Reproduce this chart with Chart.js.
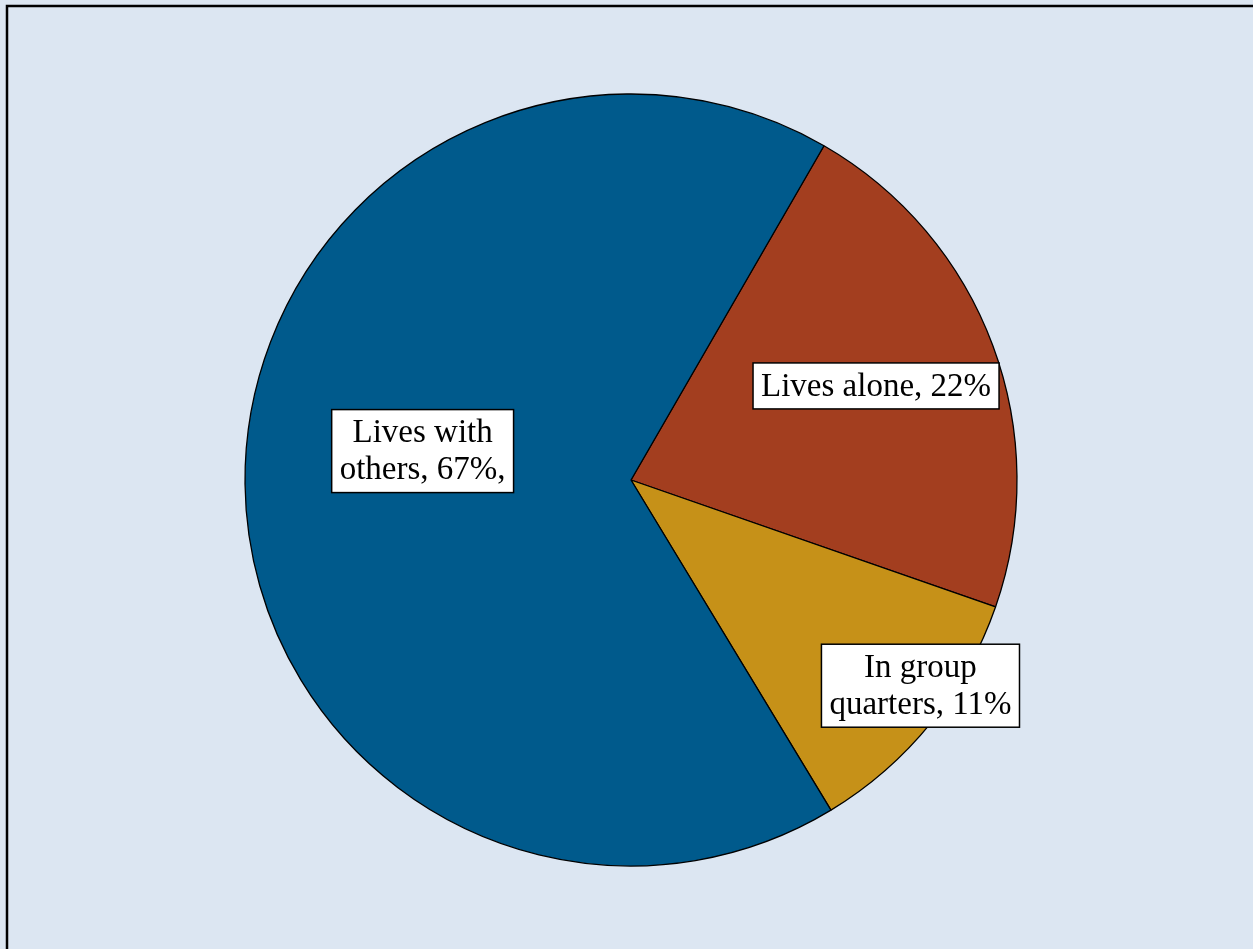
<!DOCTYPE html>
<html><head><meta charset="utf-8">
<script src="https://cdn.jsdelivr.net/npm/chart.js@4/dist/chart.umd.min.js"></script>
<style>html,body{margin:0;padding:0;background:#DCE6F2;overflow:hidden}#wrap{width:1253px;height:949px;position:relative}</style>
</head><body><div id="wrap"><canvas id="c" width="1253" height="949"></canvas></div>
<script>
const categories = ["Lives alone", "In group quarters", "Lives with others"];
const values = [22, 11, 67];
const labelLines = [["Lives alone, 22%"], ["In group", "quarters, 11%"], ["Lives with", "others, 67%,"]];
const colors = ["#A33E1F", "#C69118", "#005A8C"];

// label placement: radial fraction and angle tweak (degrees)
const labelPlace = [{r:0.68, da:-0.6}, {r:0.92, da:-3.6}, {r:0.545, da:8.5}];

const bgPlugin = {
  id:'bg',
  beforeDraw(chart){
    const ctx = chart.ctx;
    ctx.save();
    ctx.fillStyle = '#DCE6F2';
    ctx.fillRect(0,0,chart.width,chart.height);
    ctx.strokeStyle = '#000';
    ctx.lineWidth = 2.5;
    ctx.beginPath();
    ctx.moveTo(7, chart.height+2); ctx.lineTo(7, 6); ctx.lineTo(chart.width+2, 6);
    ctx.stroke();
    ctx.restore();
  }
};
const labelPlugin = {
  id:'lbl',
  afterDatasetsDraw(chart){
    const ctx = chart.ctx;
    const meta = chart.getDatasetMeta(0);
    ctx.save();
    ctx.font = '33px "Liberation Serif", "DejaVu Serif", serif';
    ctx.textAlign = 'center';
    ctx.textBaseline = 'middle';
    const lh = 37;
    meta.data.forEach((arc, i) => {
      const p = labelPlace[i];
      const mid = (arc.startAngle + arc.endAngle)/2 + p.da*Math.PI/180;
      const rr = arc.outerRadius * p.r;
      const cx = arc.x + Math.cos(mid)*rr;
      const cy = arc.y + Math.sin(mid)*rr;
      const lines = labelLines[i];
      let w = 0; lines.forEach(l => { w = Math.max(w, ctx.measureText(l).width); });
      const bw = w + 16, bh = lines.length*lh + 9;
      ctx.fillStyle = '#fff';
      ctx.fillRect(cx-bw/2, cy-bh/2, bw, bh);
      ctx.strokeStyle = '#000'; ctx.lineWidth = 1.5;
      ctx.strokeRect(cx-bw/2, cy-bh/2, bw, bh);
      ctx.fillStyle = '#000';
      lines.forEach((l, k) => {
        ctx.fillText(l, cx, cy - (lines.length-1)*lh/2 + k*lh + 1);
      });
    });
    ctx.restore();
  }
};

new Chart(document.getElementById('c'), {
  type: 'pie',
  data: { labels: categories, datasets: [{ data: values, backgroundColor: colors, borderColor: '#000', borderWidth: 1.3 }] },
  options: {
    responsive: false, animation: false, rotation: 30, radius: 386,
    layout: { padding: { left: 9, top: 11 } },
    plugins: { legend: { display: false }, tooltip: { enabled: false } }
  },
  plugins: [bgPlugin, labelPlugin]
});
</script></body></html>
